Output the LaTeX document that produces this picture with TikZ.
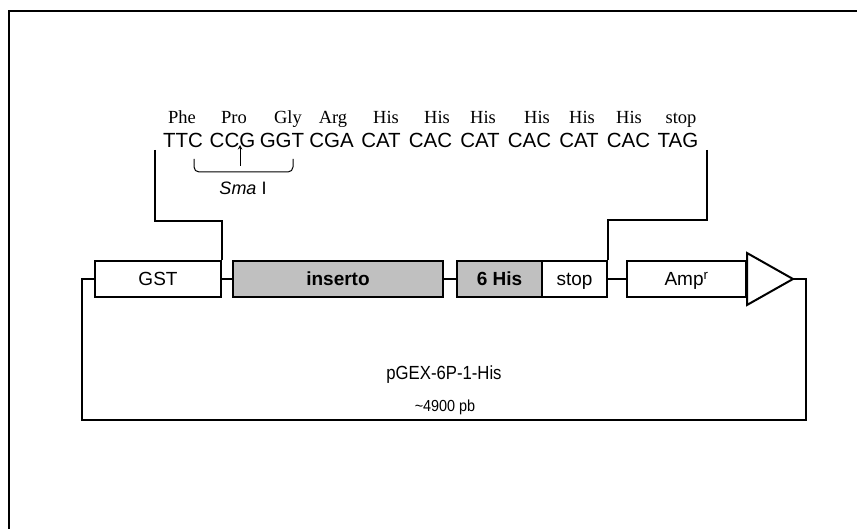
\documentclass[tikz,border=0pt]{standalone}
\usepackage{fontspec}
\setmainfont{Liberation Sans}
\newfontfamily\aafont{Liberation Serif}
\usetikzlibrary{positioning, calc, arrows}
\definecolor{grisito}{RGB}{192,192,192}
\tikzset{>=stealth}
\tikzset{gene/.style={draw, line width=2pt, minimum height=36pt, inner sep=0pt, text height=13.6pt, text depth=0pt, font=\fontsize{19}{19}\selectfont},
  wire/.style={line width=1.5pt},
  codon/.style={inner sep=0pt, anchor=base, font=\fontsize{20.5}{20}\selectfont},
  amino/.style={inner sep=0pt, anchor=base, font=\aafont\fontsize{18.5}{18}\selectfont}}

\begin{document}
\begin{tikzpicture}[x=1pt, y=-1pt]
        \useasboundingbox (0,0) rectangle (857,529);
        \draw[line width=2pt] (9,529) -- (9,11) -- (857,11);
        % sequence
        \foreach \c [count=\i] in {TTC,CCG,GGT,CGA,CAT,CAC,CAT,CAC,CAT,CAC,TAG}
          \node[codon] (cod\i) at ({183+49.5*(\i-1)},148) {\c};
        \foreach \a/\x [count=\i] in {Phe/182,Pro/234,Gly/288,Arg/333,His/386,His/437,His/483,His/537,His/582,His/629,stop/681}
          \node[amino] (aa\i) at (\x,124) {\a};
        % Sma I site
        \draw[line width=1pt, rounded corners=5pt] (194,159) -- (194,172) -- (293,172) -- (293,159);
        \coordinate (cut) at (240,166);
        \draw[->, line width=1pt] (cut) -- (240,145);
        \node[font=\fontsize{18}{18}\selectfont] (sma) at (243,188) {\textit{Sma} I};
        % vector
        \node[gene, minimum width=126pt] (gst) at (158,279) {GST};
        \node[gene, minimum width=210pt, fill=grisito, font=\fontsize{19}{19}\selectfont\bfseries] (ins) at (338,279) {inserto};
        \node[gene, minimum width=85pt, fill=grisito, font=\fontsize{19}{19}\selectfont\bfseries] (his) at (499.5,279) {6 His};
        \node[gene, minimum width=65pt] (stp) at (574.5,279) {stop};
        \node[gene, minimum width=119pt] (amp) at (686.5,279) {Amp\textsuperscript{r}};
        \draw[line width=2pt, line join=miter] ($(amp.east)+(0,-26)$) -- ($(amp.east)+(46,0)$) coordinate (tip)
          -- ($(amp.east)+(0,26)$) -- cycle;
        % links
        \draw[wire] (gst) -- (ins);
        \draw[wire] (ins) -- (his);
        \draw[wire] (stp) -- (amp);
        \draw[wire] (gst.west) -- ++(-12,0) |- (806,420) |- (tip);
        % insertion site
        \draw[wire] (155,150) |- ($(gst.north east)+(0,-39)$) -- (gst.north east);
        \draw[wire] (707,150) |- ($(stp.north east)+(0,-40)$) -- (stp.north east);
        \node[font=\fontsize{19}{19}\selectfont] (name) at (444,375) {\scalebox{0.88}[1]{pGEX-6P-1-His}};
        \node[font=\fontsize{16}{16}\selectfont] (size) at (445,407) {\scalebox{0.9}[1]{\textasciitilde4900 pb}};
      \end{tikzpicture}
\end{document}
